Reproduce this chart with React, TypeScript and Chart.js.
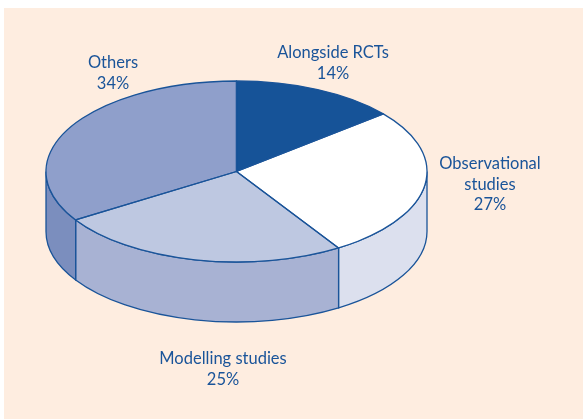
import React, { useEffect, useRef } from "react";
import { Chart, registerables } from "chart.js";

Chart.register(...registerables);

const categories = ["Alongside RCTs", "Observational studies", "Modelling studies", "Others"];
const shares = [14, 27, 25, 34];
const topColours = ["#165398", "#FFFFFF", "#BEC8E1", "#8F9FCB"];
const sideColours = ["#165398", "#DCE0EE", "#A8B2D3", "#7B8EBE"];
const labelLines = [
  ["Alongside RCTs", "14%"],
  ["Observational", "studies", "27%"],
  ["Modelling studies", "25%"],
  ["Others", "34%"],
];
const labelAnchors = [
  [333, 53],
  [490, 164],
  [223, 359],
  [113, 63],
];

const OUTLINE = "#1A5499";
const CENTRE_X = 236.5;
const CENTRE_Y = 171.5;
const RADIUS_Y = 90.5;
const DEPTH = 60;
const LINE_STEP = 20.3;

function arcs(chart: any) {
  return chart.getDatasetMeta(0).data.map((el: any) =>
    el.getProps(["x", "y", "startAngle", "endAngle", "outerRadius"], true)
  );
}

const pie3d = {
  id: "pie3d",
  beforeDraw(chart: any) {
    const { ctx } = chart;
    ctx.save();
    ctx.fillStyle = "#FFFFFF";
    ctx.fillRect(0, 0, chart.width, chart.height);
    ctx.fillStyle = "#FEEDE0";
    ctx.fillRect(4, 8, chart.width - 4, chart.height - 8);
    ctx.restore();
  },
  beforeDatasetsDraw(chart: any) {
    const { ctx } = chart;
    const list = arcs(chart);
    ctx.save();
    ctx.lineWidth = 1.3;
    ctx.strokeStyle = OUTLINE;
    list.forEach((a: any, i: number) => {
      const from = Math.max(a.startAngle, 0);
      const to = Math.min(a.endAngle, Math.PI);
      if (to <= from) return;
      const rx = a.outerRadius;
      ctx.beginPath();
      ctx.ellipse(CENTRE_X, CENTRE_Y, rx, RADIUS_Y, 0, from, to);
      ctx.ellipse(CENTRE_X, CENTRE_Y + DEPTH, rx, RADIUS_Y, 0, to, from, true);
      ctx.closePath();
      ctx.fillStyle = sideColours[i];
      ctx.fill();
      ctx.stroke();
    });
    ctx.restore();
    const first = list[0];
    ctx.save();
    ctx.translate(CENTRE_X, CENTRE_Y);
    ctx.scale(1, RADIUS_Y / first.outerRadius);
    ctx.translate(-first.x, -first.y);
  },
  afterDatasetsDraw(chart: any) {
    const { ctx } = chart;
    ctx.restore();
    ctx.save();
    ctx.lineWidth = 1.3;
    ctx.strokeStyle = OUTLINE;
    ctx.lineJoin = "round";
    arcs(chart).forEach((a: any) => {
      ctx.beginPath();
      ctx.moveTo(CENTRE_X, CENTRE_Y);
      ctx.ellipse(CENTRE_X, CENTRE_Y, a.outerRadius, RADIUS_Y, 0, a.startAngle, a.endAngle);
      ctx.closePath();
      ctx.stroke();
    });
    ctx.restore();
  },
  afterDraw(chart: any) {
    const { ctx } = chart;
    ctx.save();
    ctx.fillStyle = OUTLINE;
    ctx.font = '16.5px Lato';
    ctx.textAlign = "center";
    ctx.textBaseline = "middle";
    labelLines.forEach((lines, i) => {
      lines.forEach((line, j) => {
        ctx.fillText(line, labelAnchors[i][0], labelAnchors[i][1] + j * LINE_STEP);
      });
    });
    ctx.restore();
  },
};

export default function App() {
  const ref = useRef<HTMLCanvasElement>(null);
  useEffect(() => {
    document.body.style.margin = "0";
    const chart = new Chart(ref.current as HTMLCanvasElement, {
      type: "pie",
      data: {
        labels: categories,
        datasets: [{ data: shares, backgroundColor: topColours, borderWidth: 0 }],
      },
      options: {
        animation: false,
        responsive: false,
        rotation: 0,
        layout: { padding: { left: 46, right: 156, top: 19, bottom: 19 } },
        plugins: { legend: { display: false }, tooltip: { enabled: false } },
      },
      plugins: [pie3d],
    });
    return () => chart.destroy();
  }, []);
  return <canvas ref={ref} width={583} height={419} style={{ display: "block" }} />;
}
